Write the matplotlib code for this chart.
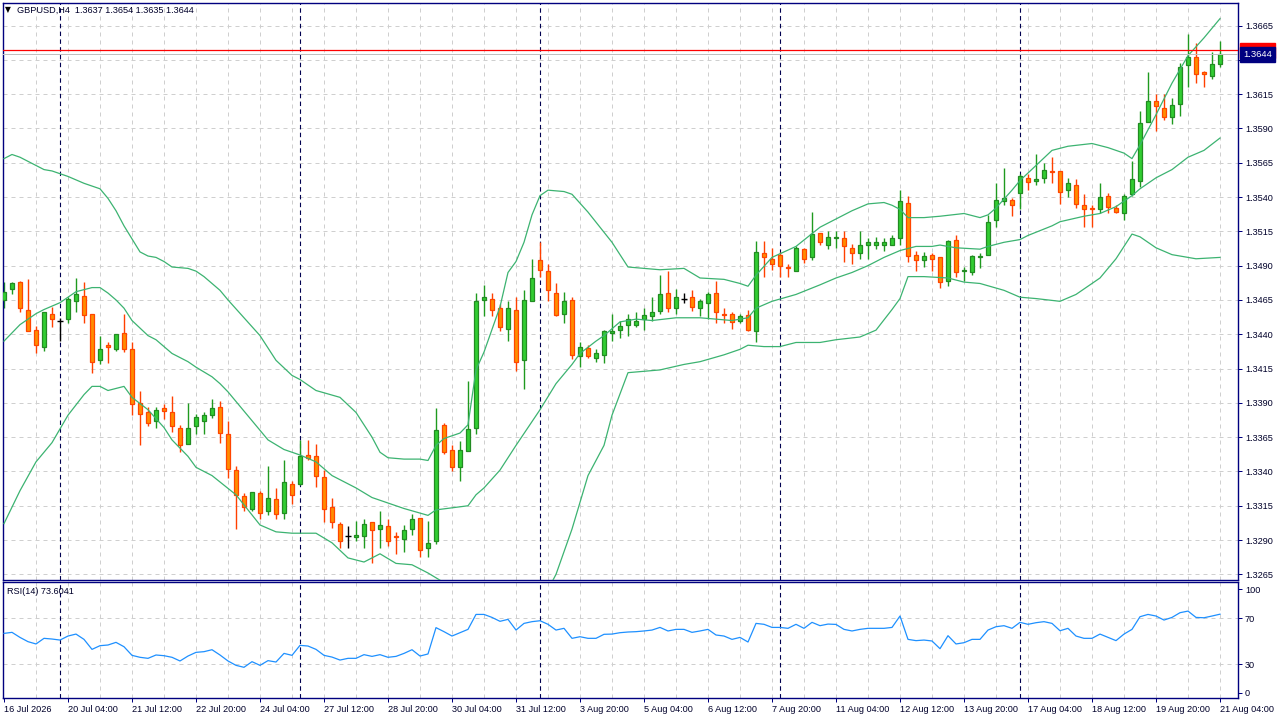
import matplotlib
matplotlib.use('Agg')
import matplotlib.pyplot as plt
import numpy as np

plt.rcParams['font.family'] = ['Liberation Sans', 'DejaVu Sans']

symbol = 'GBPUSD,H4'

# H4 candles, 16 Jul 2026 20:00 .. 21 Aug 2026 04:00
opens = [1.3465, 1.3473, 1.3478, 1.3458, 1.3443, 1.3431, 1.3455, 1.3450, 1.3451, 1.3464,
         1.3468, 1.3455, 1.3421, 1.3432, 1.3429, 1.3441, 1.3429, 1.3390, 1.3383, 1.3377,
         1.3386, 1.3383, 1.3372, 1.3360, 1.3373, 1.3377, 1.3381, 1.3387, 1.3367, 1.3341,
         1.3322, 1.3313, 1.3324, 1.3311, 1.3320, 1.3310, 1.3331, 1.3331, 1.3352, 1.3351,
         1.3336, 1.3314, 1.3302, 1.3293, 1.3292, 1.3293, 1.3303, 1.3298, 1.3300, 1.3293,
         1.3291, 1.3298, 1.3306, 1.3284, 1.3289, 1.3374, 1.3356, 1.3343, 1.3355, 1.3372,
         1.3465, 1.3466, 1.3459, 1.3444, 1.3458, 1.3421, 1.3464, 1.3494, 1.3486, 1.3470,
         1.3455, 1.3465, 1.3424, 1.3430, 1.3423, 1.3425, 1.3441, 1.3443, 1.3447, 1.3447,
         1.3451, 1.3453, 1.3457, 1.3470, 1.3459, 1.3466, 1.3467, 1.3459, 1.3463, 1.3470,
         1.3455, 1.3455, 1.3450, 1.3454, 1.3442, 1.3499, 1.3495, 1.3498, 1.3489, 1.3486,
         1.3502, 1.3496, 1.3514, 1.3505, 1.3510, 1.3510, 1.3503, 1.3499, 1.3505, 1.3505,
         1.3505, 1.3505, 1.3510, 1.3536, 1.3498, 1.3494, 1.3498, 1.3496, 1.3479, 1.3509,
         1.3486, 1.3485, 1.3496, 1.3498, 1.3523, 1.3537, 1.3538, 1.3543, 1.3554, 1.3552,
         1.3554, 1.3559, 1.3559, 1.3545, 1.3549, 1.3534, 1.3532, 1.3531, 1.3541, 1.3532,
         1.3528, 1.3542, 1.3552, 1.3595, 1.3610, 1.3605, 1.3598, 1.3608, 1.3636, 1.3642,
         1.3631, 1.3628, 1.3637]
highs = [1.3478, 1.3478, 1.3479, 1.3480, 1.3446, 1.3456, 1.3460, 1.3452, 1.3467, 1.3481,
         1.3478, 1.3455, 1.3439, 1.3434, 1.3440, 1.3455, 1.3434, 1.3399, 1.3387, 1.3387,
         1.3389, 1.3395, 1.3374, 1.3390, 1.3382, 1.3383, 1.3393, 1.3391, 1.3377, 1.3344,
         1.3324, 1.3325, 1.3326, 1.3344, 1.3328, 1.3348, 1.3333, 1.3363, 1.3363, 1.3360,
         1.3341, 1.3321, 1.3303, 1.3300, 1.3304, 1.3305, 1.3303, 1.3311, 1.3305, 1.3296,
         1.3301, 1.3309, 1.3306, 1.3304, 1.3386, 1.3375, 1.3359, 1.3362, 1.3406, 1.3470,
         1.3476, 1.3470, 1.3462, 1.3464, 1.3467, 1.3472, 1.3495, 1.3507, 1.3491, 1.3477,
         1.3471, 1.3467, 1.3434, 1.3432, 1.3429, 1.3443, 1.3455, 1.3450, 1.3455, 1.3456,
         1.3459, 1.3467, 1.3483, 1.3486, 1.3473, 1.3470, 1.3472, 1.3466, 1.3471, 1.3479,
         1.3459, 1.3456, 1.3455, 1.3458, 1.3508, 1.3508, 1.3503, 1.3500, 1.3491, 1.3504,
         1.3503, 1.3529, 1.3514, 1.3515, 1.3515, 1.3515, 1.3506, 1.3515, 1.3510, 1.3511,
         1.3510, 1.3512, 1.3545, 1.3541, 1.3501, 1.3500, 1.3499, 1.3496, 1.3509, 1.3512,
         1.3489, 1.3498, 1.3499, 1.3527, 1.3550, 1.3561, 1.3539, 1.3557, 1.3557, 1.3571,
         1.3565, 1.3569, 1.3559, 1.3554, 1.3553, 1.3542, 1.3534, 1.3550, 1.3543, 1.3534,
         1.3542, 1.3566, 1.3603, 1.3631, 1.3615, 1.3615, 1.3612, 1.3638, 1.3659, 1.3652,
         1.3632, 1.3646, 1.3654]
lows = [1.3459, 1.3469, 1.3456, 1.3442, 1.3426, 1.3428, 1.3445, 1.3435, 1.3448, 1.3456,
        1.3448, 1.3412, 1.3418, 1.3419, 1.3428, 1.3427, 1.3381, 1.3359, 1.3373, 1.3372,
        1.3378, 1.3369, 1.3354, 1.3360, 1.3367, 1.3367, 1.3379, 1.3361, 1.3335, 1.3298,
        1.3311, 1.3311, 1.3305, 1.3308, 1.3305, 1.3305, 1.3316, 1.3330, 1.3348, 1.3329,
        1.3303, 1.3299, 1.3284, 1.3284, 1.3289, 1.3284, 1.3273, 1.3284, 1.3286, 1.3280,
        1.3281, 1.3294, 1.3278, 1.3278, 1.3287, 1.3353, 1.3340, 1.3333, 1.3355, 1.3367,
        1.3453, 1.3453, 1.3442, 1.3435, 1.3413, 1.3400, 1.3464, 1.3482, 1.3464, 1.3453,
        1.3448, 1.3422, 1.3416, 1.3423, 1.3420, 1.3419, 1.3435, 1.3437, 1.3439, 1.3445,
        1.3443, 1.3450, 1.3455, 1.3456, 1.3455, 1.3463, 1.3457, 1.3453, 1.3451, 1.3448,
        1.3448, 1.3444, 1.3448, 1.3442, 1.3434, 1.3482, 1.3487, 1.3482, 1.3482, 1.3486,
        1.3492, 1.3494, 1.3505, 1.3502, 1.3503, 1.3493, 1.3491, 1.3495, 1.3495, 1.3502,
        1.3501, 1.3505, 1.3505, 1.3493, 1.3486, 1.3489, 1.3486, 1.3474, 1.3475, 1.3482,
        1.3479, 1.3483, 1.3488, 1.3498, 1.3518, 1.3534, 1.3526, 1.3531, 1.3545, 1.3549,
        1.3550, 1.3550, 1.3535, 1.3540, 1.3532, 1.3518, 1.3518, 1.3528, 1.3528, 1.3528,
        1.3523, 1.3541, 1.3547, 1.3595, 1.3588, 1.3596, 1.3593, 1.3599, 1.3620, 1.3623,
        1.3620, 1.3626, 1.3635]
closes = [1.3471, 1.3477, 1.3459, 1.3442, 1.3432, 1.3456, 1.3451, 1.3450, 1.3466, 1.3469,
          1.3454, 1.3420, 1.3429, 1.3431, 1.3440, 1.3429, 1.3389, 1.3382, 1.3375, 1.3385,
          1.3384, 1.3373, 1.3359, 1.3372, 1.3380, 1.3381, 1.3386, 1.3368, 1.3342, 1.3323,
          1.3314, 1.3325, 1.3310, 1.3321, 1.3309, 1.3332, 1.3323, 1.3351, 1.3350, 1.3337,
          1.3313, 1.3303, 1.3289, 1.3293, 1.3294, 1.3302, 1.3297, 1.3301, 1.3289, 1.3292,
          1.3297, 1.3305, 1.3283, 1.3288, 1.3370, 1.3354, 1.3343, 1.3356, 1.3371, 1.3464,
          1.3467, 1.3458, 1.3445, 1.3459, 1.3420, 1.3465, 1.3481, 1.3487, 1.3472, 1.3454,
          1.3464, 1.3425, 1.3431, 1.3424, 1.3426, 1.3442, 1.3442, 1.3446, 1.3451, 1.3450,
          1.3454, 1.3456, 1.3469, 1.3459, 1.3467, 1.3466, 1.3460, 1.3464, 1.3469, 1.3456,
          1.3454, 1.3449, 1.3453, 1.3443, 1.3500, 1.3496, 1.3491, 1.3490, 1.3488, 1.3503,
          1.3495, 1.3513, 1.3507, 1.3511, 1.3511, 1.3504, 1.3499, 1.3505, 1.3507, 1.3507,
          1.3507, 1.3510, 1.3537, 1.3497, 1.3494, 1.3497, 1.3495, 1.3478, 1.3508, 1.3485,
          1.3487, 1.3497, 1.3497, 1.3522, 1.3538, 1.3539, 1.3534, 1.3555, 1.3551, 1.3553,
          1.3560, 1.3558, 1.3544, 1.3550, 1.3535, 1.3531, 1.3531, 1.3540, 1.3533, 1.3529,
          1.3541, 1.3553, 1.3594, 1.3610, 1.3606, 1.3598, 1.3607, 1.3635, 1.3642, 1.3630,
          1.3630, 1.3637, 1.3644]

# Bollinger Bands(20), read at selected bars
upper_idx = [0, 1, 2, 3, 5, 6, 7, 8, 10, 12, 13, 14, 15, 17, 18, 19, 20, 21, 23, 24,
             25, 27, 28, 30, 32, 34, 36, 37, 39, 42, 44, 46, 47, 48, 50, 52, 53, 54, 55, 57,
             58, 59, 60, 62, 63, 64, 65, 66, 67, 68, 70, 71, 73, 76, 78, 80, 82, 85, 87, 90,
             92, 93, 94, 96, 99, 102, 104, 106, 108, 110, 111, 112, 113, 115, 117, 120, 122, 123, 124, 126,
             127, 129, 131, 133, 136, 138, 140, 141, 142, 144, 146, 148, 150, 152]
upper_band = [1.3568, 1.3571, 1.3569, 1.3566, 1.3560, 1.3559, 1.3557, 1.3555, 1.3550, 1.3546,
              1.3539, 1.3530, 1.3519, 1.3500, 1.3497, 1.3496, 1.3493, 1.3489, 1.3488, 1.3486,
              1.3482, 1.3472, 1.3465, 1.3452, 1.3439, 1.3421, 1.3410, 1.3407, 1.3399, 1.3394,
              1.3383, 1.3365, 1.3354, 1.3350, 1.3349, 1.3349, 1.3348, 1.3359, 1.3364, 1.3368,
              1.3374, 1.3414, 1.3427, 1.3460, 1.3485, 1.3493, 1.3507, 1.3527, 1.3541, 1.3545,
              1.3544, 1.3542, 1.3529, 1.3507, 1.3489, 1.3488, 1.3487, 1.3488, 1.3481, 1.3480,
              1.3477, 1.3475, 1.3483, 1.3496, 1.3504, 1.3518, 1.3524, 1.3530, 1.3535, 1.3536,
              1.3534, 1.3531, 1.3525, 1.3525, 1.3526, 1.3528, 1.3525, 1.3527, 1.3532, 1.3545,
              1.3552, 1.3563, 1.3574, 1.3577, 1.3579, 1.3576, 1.3572, 1.3568, 1.3578, 1.3600,
              1.3623, 1.3643, 1.3656, 1.3670]
mid_idx = [0, 2, 4, 5, 7, 9, 11, 12, 13, 14, 15, 16, 18, 19, 21, 23, 24, 26, 27, 28,
           31, 33, 35, 37, 39, 41, 44, 46, 49, 50, 53, 54, 58, 59, 60, 62, 64, 67, 69, 71,
           72, 74, 75, 77, 79, 81, 84, 87, 91, 93, 94, 96, 99, 102, 104, 106, 108, 110, 112, 114,
           116, 117, 119, 122, 123, 125, 127, 128, 131, 132, 135, 137, 139, 141, 142, 144, 146, 148, 150, 152]
mid_band = [1.3435, 1.3447, 1.3455, 1.3458, 1.3463, 1.3471, 1.3474, 1.3474, 1.3470, 1.3465,
            1.3459, 1.3450, 1.3439, 1.3436, 1.3426, 1.3420, 1.3416, 1.3409, 1.3404, 1.3398,
            1.3377, 1.3363, 1.3356, 1.3352, 1.3347, 1.3337, 1.3328, 1.3321, 1.3315, 1.3313,
            1.3308, 1.3312, 1.3315, 1.3323, 1.3328, 1.3341, 1.3359, 1.3385, 1.3404, 1.3418,
            1.3426, 1.3435, 1.3439, 1.3449, 1.3451, 1.3450, 1.3452, 1.3452, 1.3450, 1.3452,
            1.3459, 1.3464, 1.3469, 1.3476, 1.3481, 1.3485, 1.3490, 1.3496, 1.3501, 1.3504,
            1.3504, 1.3505, 1.3503, 1.3502, 1.3504, 1.3507, 1.3509, 1.3512, 1.3519, 1.3522,
            1.3526, 1.3528, 1.3533, 1.3541, 1.3546, 1.3554, 1.3560, 1.3569, 1.3574, 1.3583]
lower_idx = [0, 2, 4, 6, 8, 10, 11, 12, 13, 15, 16, 18, 20, 21, 23, 24, 26, 29, 32, 34,
             36, 39, 41, 43, 45, 47, 49, 51, 53, 55, 58, 61, 64, 67, 69, 71, 73, 75, 76, 78,
             80, 82, 85, 87, 90, 92, 93, 95, 97, 99, 102, 104, 107, 109, 111, 112, 113, 115, 118, 120,
             122, 125, 127, 129, 132, 134, 137, 139, 141, 142, 144, 146, 149, 152]
lower_band = [1.3302, 1.3326, 1.3347, 1.3361, 1.3381, 1.3396, 1.3402, 1.3402, 1.3399, 1.3402,
              1.3394, 1.3385, 1.3372, 1.3363, 1.3351, 1.3343, 1.3337, 1.3323, 1.3301, 1.3296,
              1.3295, 1.3295, 1.3288, 1.3277, 1.3274, 1.3280, 1.3273, 1.3272, 1.3266, 1.3259,
              1.3239, 1.3217, 1.3217, 1.3243, 1.3265, 1.3298, 1.3337, 1.3359, 1.3381, 1.3412,
              1.3413, 1.3414, 1.3418, 1.3420, 1.3425, 1.3429, 1.3432, 1.3431, 1.3431, 1.3434,
              1.3434, 1.3436, 1.3438, 1.3443, 1.3458, 1.3466, 1.3482, 1.3482, 1.3481, 1.3478,
              1.3477, 1.3472, 1.3467, 1.3466, 1.3464, 1.3469, 1.3481, 1.3495, 1.3513, 1.3511,
              1.3503, 1.3498, 1.3495, 1.3496]

# RSI(14)
rsi = [56.9, 57.8, 53.4, 49.7, 47.7, 52.6, 52.0, 51.1, 54.6, 56.3,
       51.7, 43.0, 46.2, 46.8, 49.1, 45.3, 37.8, 36.1, 35.2, 38.1,
       37.5, 36.1, 32.9, 37.2, 40.4, 41.0, 42.7, 38.1, 32.9, 29.1,
       27.4, 32.3, 29.1, 33.2, 32.0, 39.5, 37.8, 46.5, 45.9, 43.0,
       37.8, 36.3, 33.7, 35.2, 35.2, 38.4, 36.9, 38.4, 36.1, 36.9,
       39.5, 42.7, 37.2, 39.0, 61.9, 58.4, 54.6, 57.5, 60.4, 73.4,
       73.4, 70.8, 67.4, 69.1, 59.8, 65.6, 67.1, 67.9, 64.8, 59.8,
       61.3, 52.6, 54.0, 52.6, 52.6, 56.1, 56.3, 57.5, 58.1, 58.4,
       59.0, 59.8, 62.1, 59.0, 60.4, 60.4, 57.8, 59.0, 60.4, 55.5,
       54.6, 51.7, 53.4, 49.4, 65.6, 64.8, 62.1, 62.1, 61.3, 64.8,
       61.3, 66.5, 63.6, 65.0, 64.7, 60.4, 59.0, 60.4, 61.3, 61.3,
       61.3, 62.1, 72.0, 51.7, 50.6, 51.1, 50.3, 43.6, 54.9, 47.7,
       48.8, 51.7, 51.7, 59.8, 62.7, 63.6, 61.3, 66.5, 64.8, 66.2,
       67.1, 65.6, 59.2, 61.3, 54.6, 52.6, 52.6, 56.3, 53.4, 50.6,
       56.3, 60.4, 71.4, 73.4, 72.0, 68.5, 70.8, 74.9, 76.3, 70.8,
       70.5, 72.0, 73.6041]

week_starts = [7, 37, 67, 97, 127]
date_ticks = [0, 8, 16, 24, 32, 40, 48, 56, 64, 72, 80, 88, 96, 104, 112, 120, 128, 136, 144, 152]
date_labels = ['16 Jul 2026', '20 Jul 04:00', '21 Jul 12:00', '22 Jul 20:00', '24 Jul 04:00',
               '27 Jul 12:00', '28 Jul 20:00', '30 Jul 04:00', '31 Jul 12:00', '3 Aug 20:00',
               '5 Aug 04:00', '6 Aug 12:00', '7 Aug 20:00', '11 Aug 04:00', '12 Aug 12:00',
               '13 Aug 20:00', '17 Aug 04:00', '18 Aug 12:00', '19 Aug 20:00', '21 Aug 04:00']
price_ticks = [1.3265, 1.3290, 1.3315, 1.3340, 1.3365, 1.3390, 1.3415, 1.3440, 1.3465,
               1.3490, 1.3515, 1.3540, 1.3565, 1.3590, 1.3615, 1.3640, 1.3665]
bid = 1.3644
ask = 1.3647

navy = '#00007f'
txt = '#00002a'
grid_c = '#cfcfcf'
px = 0.72  # one pixel in points

fig = plt.figure(figsize=(12.8, 7.2), dpi=100)
ax = fig.add_axes([3 / 1280, 1 - 580 / 720, 1235 / 1280, 577 / 720])
ax_rsi = fig.add_axes([3 / 1280, 1 - 698 / 720, 1235 / 1280, 116 / 720], sharex=ax)

n = len(closes)
x = np.arange(n)
o = np.array(opens)
h = np.array(highs)
l = np.array(lows)
c = np.array(closes)

ax.set_xlim(-0.125, 154.25)
ax.set_ylim(1.32609, 1.36814)

# grid
for p in price_ticks:
    ax.axhline(p, color=grid_c, lw=px, ls=(0, (4, 4)), zorder=0)
for a in (ax, ax_rsi):
    for g in range(4, 153, 4):
        a.axvline(g, color=grid_c, lw=px, ls=(0, (4, 4)), zorder=0)
    for w in week_starts:
        a.axvline(w, color='#000050', lw=0.8, ls=(0, (4, 3)), zorder=1)

# candles
up = c > o
dn = c < o
dj = c == o
ax.vlines(x[up], l[up], h[up], colors='#1f9a1f', lw=1.0, zorder=2)
ax.vlines(x[dn], l[dn], h[dn], colors='#ff4000', lw=1.0, zorder=2)
ax.vlines(x[dj], l[dj], h[dj], colors='black', lw=1.0, zorder=2)
ax.bar(x[up], c[up] - o[up], bottom=o[up], width=0.6, color='#32cd32',
       edgecolor='#228b22', lw=0.9, zorder=3)
ax.bar(x[dn], o[dn] - c[dn], bottom=c[dn], width=0.6, color='#ff8c00',
       edgecolor='#ff4500', lw=0.9, zorder=3)
ax.hlines(c[dj], x[dj] - 0.35, x[dj] + 0.35, colors='black', lw=1.0, zorder=3)

# Bollinger bands
band_c = '#3cb371'
ax.plot(upper_idx, upper_band, color=band_c, lw=0.9, zorder=4)
ax.plot(mid_idx, mid_band, color=band_c, lw=0.9, zorder=4)
ax.plot(lower_idx, lower_band, color=band_c, lw=0.9, zorder=4)

# bid / ask lines
ax.axhline(bid, color='#c0c0c0', lw=px, zorder=4)
ax.axhline(ask, color='red', lw=0.9, zorder=5)

# price axis
ax.yaxis.tick_right()
ax.set_yticks(price_ticks)
ax.set_yticklabels([f'{p:.4f}' for p in price_ticks])
ax.tick_params(axis='y', direction='out', length=3, width=px, color=navy,
               labelsize=6.6, labelcolor=txt, pad=2)
ax.tick_params(axis='x', bottom=False, labelbottom=False)
for s in ax.spines.values():
    s.set_color(navy)
    s.set_linewidth(1.0)

yt = ax.get_yaxis_transform()
ax.text(1.0 + 5 / 1235, ask, f'{ask:.4f}', transform=yt, ha='left', va='center',
        fontsize=6.8, color='white', clip_on=False, zorder=10,
        bbox=dict(boxstyle='square,pad=0.3', fc='#ff0000', ec='#ff0000'))
ax.text(1.0 + 5 / 1235, bid, f'{bid:.4f}', transform=yt, ha='left', va='center',
        fontsize=6.8, color='white', clip_on=False, zorder=11,
        bbox=dict(boxstyle='square,pad=0.3', fc='#000080', ec='#000080'))

# header
fig.text(5 / 1280, 1 - 10 / 720, '\u25bc', fontsize=5.5, color='black', va='center',
         family=['DejaVu Sans'])
fig.text(17 / 1280, 1 - 10 / 720,
         f'{symbol}  {opens[-1]:.4f} {highs[-1]:.4f} {lows[-1]:.4f} {closes[-1]:.4f}',
         fontsize=6.6, color=txt, va='center')

# RSI panel
ax_rsi.set_ylim(0.7, 101.6)
ax_rsi.axhline(70, color=grid_c, lw=px, ls=(0, (4, 4)), zorder=0)
ax_rsi.axhline(30, color=grid_c, lw=px, ls=(0, (4, 4)), zorder=0)
ax_rsi.plot(x, rsi, color='#1e90ff', lw=0.9, zorder=3)
ax_rsi.yaxis.tick_right()
ax_rsi.set_yticks([5.3, 30, 70, 95.5])
ax_rsi.set_yticklabels(['0', '30', '70', '100'])
ax_rsi.tick_params(axis='y', direction='out', length=3, width=px, color=navy,
                   labelsize=6.6, labelcolor=txt, pad=2)
ax_rsi.set_xticks(date_ticks)
ax_rsi.set_xticklabels(date_labels, ha='left')
ax_rsi.tick_params(axis='x', direction='out', length=3, width=px, color=navy,
                   labelsize=6.6, labelcolor=txt, pad=2)
for s in ax_rsi.spines.values():
    s.set_color(navy)
    s.set_linewidth(1.0)
ax_rsi.text(4 / 1235, 1 - 9 / 116, f'RSI(14) {rsi[-1]:.4f}', transform=ax_rsi.transAxes,
            fontsize=6.6, color=txt, va='center', ha='left')

fig.savefig('out.png', dpi=100, facecolor='white')
